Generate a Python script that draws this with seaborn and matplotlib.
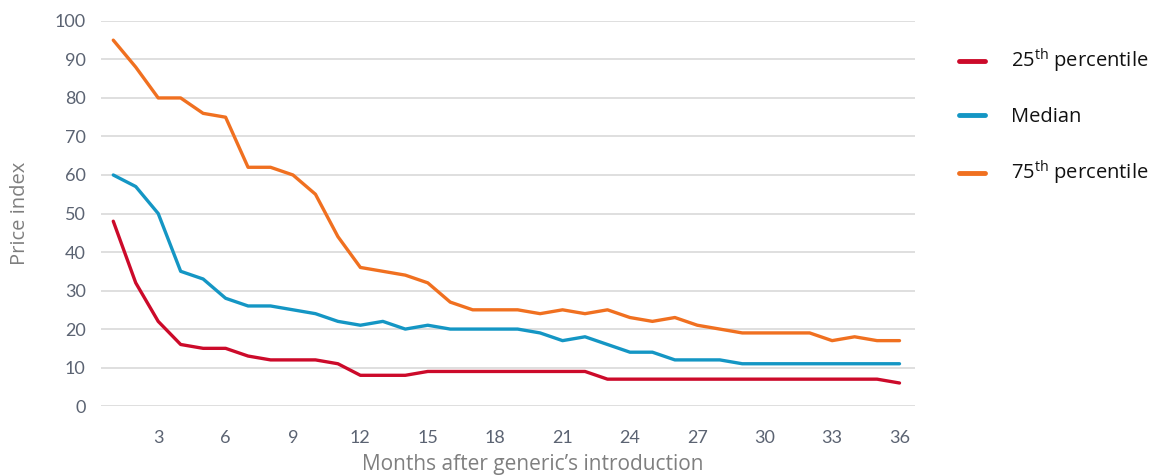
import numpy as np
import pandas as pd
import matplotlib
matplotlib.use("Agg")
import matplotlib.pyplot as plt
import seaborn as sns

months = list(range(1, 37))
p25 = [48, 32, 22, 16, 15, 15, 13, 12, 12, 12, 11, 8, 8, 8, 9, 9, 9, 9,
       9, 9, 9, 9, 7, 7, 7, 7, 7, 7, 7, 7, 7, 7, 7, 7, 7, 6]
median = [60, 57, 50, 35, 33, 28, 26, 26, 25, 24, 22, 21, 22, 20, 21, 20, 20, 20,
          20, 19, 17, 18, 16, 14, 14, 12, 12, 12, 11, 11, 11, 11, 11, 11, 11, 11]
p75 = [95, 88, 80, 80, 76, 75, 62, 62, 60, 55, 44, 36, 35, 34, 32, 27, 25, 25,
       25, 24, 25, 24, 25, 23, 22, 23, 21, 20, 19, 19, 19, 19, 17, 18, 17, 17]
series_names = ["25$^{\\mathrm{th}}$ percentile", "Median", "75$^{\\mathrm{th}}$ percentile"]
colors = ["#cc0a2a", "#1496c4", "#f07020"]
xticks = list(range(3, 37, 3))
yticks = list(range(0, 101, 10))

df = pd.concat([
    pd.DataFrame({"month": months, "value": vals, "series": name})
    for name, vals in zip(series_names, [p25, median, p75])
], ignore_index=True)

sns.set_theme(style="white")
plt.rcParams["font.family"] = ["Lato", "DejaVu Sans"]
plt.rcParams["mathtext.fontset"] = "custom"
plt.rcParams["mathtext.rm"] = "Open Sans"

fig = plt.figure(figsize=(11.6, 4.75), dpi=100)
ax = fig.add_axes([0.087, 0.145, 0.702, 0.811])

sns.lineplot(data=df, x="month", y="value", hue="series", palette=colors,
             linewidth=2.4, ax=ax, legend=True)

ax.set_xlim(0.45, 36.7)
ax.set_ylim(0, 100)
ax.set_xticks(xticks)
ax.set_yticks(yticks)
ax.yaxis.grid(True, color="#d9d9d9", linewidth=1.2)
ax.xaxis.grid(False)
ax.set_axisbelow(True)
for s in ax.spines.values():
    s.set_visible(False)
ax.tick_params(axis="both", length=0, labelsize=13, colors="#5b6372")
ax.tick_params(axis="y", pad=11)
ax.tick_params(axis="x", pad=17)
ax.set_xlabel("Months after generic\u2019s introduction", fontsize=15,
              color="#7f7f7f", family=["Open Sans", "DejaVu Sans"])
ax.xaxis.set_label_coords(0.53, -0.125)
ax.set_ylabel("Price index", fontsize=14.5, color="#7f7f7f",
              family=["Open Sans", "DejaVu Sans"])
ax.yaxis.set_label_coords(-0.087, 0.5)

leg = ax.legend(loc="upper left", bbox_to_anchor=(1.044, 0.953), frameon=False,
                prop={"family": ["Open Sans", "DejaVu Sans"], "size": 14.5},
                handlelength=1.3, handletextpad=1.3,
                labelspacing=1.58, borderaxespad=0)
for t in leg.get_texts():
    t.set_color("#111111")
for h in leg.legend_handles:
    h.set_linewidth(3.5)

fig.savefig("out.png", dpi=100, facecolor="white")
